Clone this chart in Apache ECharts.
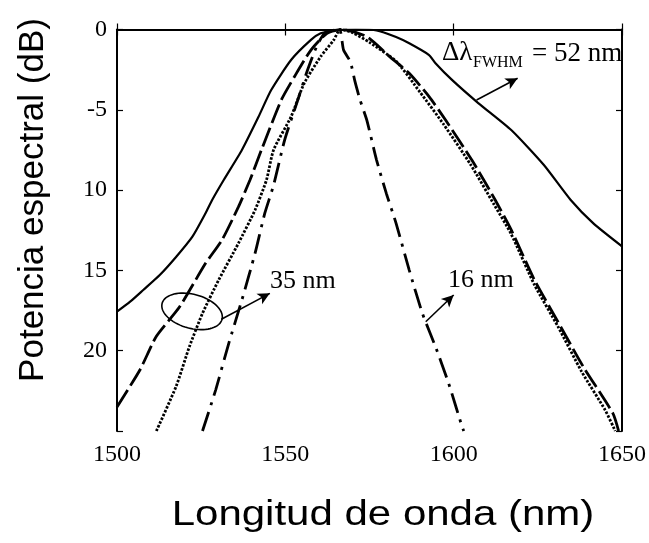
<!DOCTYPE html>
<html>
<head>
<meta charset="utf-8">
<script src="https://cdn.jsdelivr.net/npm/echarts@6/dist/echarts.min.js"></script>
<style>
  html, body { margin: 0; padding: 0; background: #fff; }
  #chart { width: 649px; height: 543px; }
</style>
</head>
<body>
<div id="chart"></div>
<script>
// Spectral power curves: [wavelength (nm), power (dB)]
var fwhm52 = [
  [1500, -17.57], [1503.9, -16.95], [1507.8, -16.22], [1512.7, -15.29], [1517.6, -14.15],
  [1522.4, -12.9], [1526.3, -11.44], [1528.3, -10.6], [1531.7, -9.37], [1537.1, -7.5],
  [1542, -5.45], [1545.8, -3.77], [1551.7, -1.9], [1557.6, -0.65],
  [1560.5, -0.24], [1565, -0.02], [1571, 0], [1577.1, -0.05], [1582.9, -0.47],
  [1586.8, -0.86], [1592.7, -1.59], [1594.6, -2.1], [1599.5, -3.14], [1607.3, -4.58],
  [1617.1, -6.26], [1626.8, -8.44], [1634.7, -10.6], [1641.5, -12.07], [1650, -13.5]
];
var fwhm35a = [
  [1500, -23.5], [1506.8, -21.2], [1511.7, -19.1], [1518.5, -17.3], [1526.3, -14.56],
  [1531.2, -13.1], [1536.1, -11.03], [1539.5, -9.37], [1542.9, -7.5], [1548.8, -4.39],
  [1552.7, -2.94], [1557.6, -1.28], [1562.4, -0.24], [1567, 0],
  [1574.2, -0.45], [1581, -1.69], [1586.8, -2.73], [1592.7, -4.18], [1597.6, -5.64],
  [1605.4, -8.13], [1612.3, -10.6], [1617.1, -12.48], [1624, -15.6], [1630.7, -18.1],
  [1638.5, -21], [1647.3, -23.9], [1649, -25]
];
var fwhm35b = [
  [1511.7, -25], [1517.6, -22.2], [1521.5, -19.75], [1525.4, -17.67], [1530.2, -15.6],
  [1536.1, -13.3], [1541, -11.24], [1544.4, -9.37], [1546.5, -7.5], [1551.7, -5.43],
  [1555.6, -3.35], [1560.5, -1.69], [1564.4, -0.65], [1566.3, 0], [1570, -0.2],
  [1575, -0.8], [1583, -2.0], [1590, -3.9], [1597, -5.9], [1605, -8.4],
  [1612, -10.9], [1617, -12.7], [1624, -15.9], [1631, -18.5], [1638, -21.3],
  [1645, -23.7], [1648, -25]
];
var fwhm16 = [
  [1525.4, -25], [1529.3, -22.45], [1533.2, -19.54], [1537.1, -16.84], [1541, -13.94],
  [1543.9, -11.44], [1546.5, -9.7], [1549.8, -6.88], [1553.7, -4.39], [1556.6, -2.52],
  [1559.5, -0.96], [1561.9, -0.2], [1566, 0], [1567.3, -1.28], [1569.3, -2.0],
  [1570.7, -3.25], [1572.2, -4.39], [1574.2, -5.64], [1577.1, -8.13], [1580, -10.2],
  [1582.9, -12.07], [1586.8, -14.98], [1590.7, -17.67], [1594.6, -19.75], [1598.5, -22.03],
  [1602.5, -24.73], [1603, -25]
];

// Axis tick labels
var xTicks = [1500, 1550, 1600, 1650];
var yTickLabels = { '0': '0', '-5': '-5', '-10': '10', '-15': '15', '-20': '20' };

// Annotation arrows (data coordinates: from -> to)
var arrows = [
  [[1606.8, -4.39], [1619.0, -3.04]],
  [[1531.0, -18.04], [1545.4, -16.43]],
  [[1591.7, -18.2], [1600.0, -16.53]]
];
var ellipseCenter = [1522.3, -17.55];

var serif = 'Liberation Serif, Times New Roman, serif';
var sans = 'Liberation Sans, Arial, sans-serif';

var chart = echarts.init(document.getElementById('chart'), null, { renderer: 'canvas' });

var boxAxis = {
  axisLine: { show: true, lineStyle: { color: '#000', width: 2 } },
  axisTick: { show: true, inside: true, length: 6, lineStyle: { color: '#000', width: 1.2 } },
  splitLine: { show: false }
};

function lineSeries(name, data, type, width) {
  return {
    name: name, type: 'line', data: data, smooth: 0.2, symbol: 'none',
    xAxisIndex: 0, yAxisIndex: 0, clip: true,
    lineStyle: { color: '#000', width: width, type: type, cap: 'butt' },
    z: 3
  };
}

var option = {
  animation: false,
  backgroundColor: '#fff',
  grid: { left: 117, right: 19, top: 29.5, bottom: 112, containLabel: false },
  xAxis: [
    Object.assign({
      type: 'value', min: 1500, max: 1650, interval: 50, position: 'bottom',
      axisLabel: {
        show: true, color: '#000', fontFamily: serif, fontSize: 24, margin: 12,
        formatter: function (v) { return xTicks.indexOf(v) >= 0 ? String(v) : ''; }
      }
    }, boxAxis),
    Object.assign({
      type: 'value', min: 1500, max: 1650, interval: 50, position: 'top',
      axisLabel: { show: false }
    }, boxAxis)
  ],
  yAxis: [
    Object.assign({
      type: 'value', min: -25, max: 0, interval: 5, position: 'left',
      axisLabel: {
        show: true, color: '#000', fontFamily: serif, fontSize: 24, margin: 10,
        formatter: function (v) { var k = String(v); return yTickLabels[k] !== undefined ? yTickLabels[k] : ''; }
      }
    }, boxAxis),
    Object.assign({
      type: 'value', min: -25, max: 0, interval: 5, position: 'right',
      axisLabel: { show: false }
    }, boxAxis)
  ],
  series: [
    lineSeries('52 nm', fwhm52, 'solid', 2.2),
    lineSeries('35 nm a', fwhm35a, [20, 5], 2.8),
    lineSeries('35 nm b', fwhm35b, [2.5, 1.6], 2.8),
    lineSeries('16 nm', fwhm16, [20, 7, 3, 7], 2.8),
    {
      type: 'line', data: [], symbol: 'none',
      markLine: {
        silent: true, symbol: ['none', 'arrow'], symbolSize: [9, 12],
        label: { show: false },
        lineStyle: { color: '#000', width: 1.6, type: 'solid' },
        data: arrows.map(function (a) { return [{ coord: a[0] }, { coord: a[1] }]; })
      }
    }
  ]
};
chart.setOption(option);

// Texts and the ellipse grouping the two 35 nm curves
function px(p) { return chart.convertToPixel({ xAxisIndex: 0, yAxisIndex: 0 }, p); }
var c = px(ellipseCenter);
var ell = [];
var rx = 31, ry = 17, rot = 15 * Math.PI / 180;
for (var i = 0; i <= 72; i++) {
  var t = i / 72 * Math.PI * 2;
  var ex = rx * Math.cos(t), ey = ry * Math.sin(t);
  ell.push([c[0] + ex * Math.cos(rot) - ey * Math.sin(rot), c[1] + ex * Math.sin(rot) + ey * Math.cos(rot)]);
}
var lblFont = { fontFamily: serif, fontSize: 26, fill: '#000' };
chart.setOption({
  graphic: [
    { type: 'polyline', shape: { points: ell }, style: { stroke: '#000', lineWidth: 1.6, fill: null }, z: 10 },
    { type: 'text', x: 442, y: 53, style: { text: 'Δλ', fontFamily: serif, fontSize: 27, fill: '#000', textVerticalAlign: 'middle' }, z: 10 },
    { type: 'text', x: 473, y: 63, style: { text: 'FWHM', fontFamily: serif, fontSize: 16, fill: '#000', textVerticalAlign: 'middle' }, z: 10 },
    { type: 'text', x: 532, y: 54, style: { text: '= 52 nm', fontFamily: serif, fontSize: 27, fill: '#000', textVerticalAlign: 'middle' }, z: 10 },
    { type: 'text', x: 270, y: 281, style: Object.assign({ text: '35 nm', textVerticalAlign: 'middle' }, lblFont), z: 10 },
    { type: 'text', x: 448, y: 280, style: Object.assign({ text: '16 nm', textVerticalAlign: 'middle' }, lblFont), z: 10 },
    { type: 'text', x: 383, y: 515, scaleX: 1.2, style: { text: 'Longitud de onda (nm)', fontFamily: sans, fontSize: 35, fill: '#000', textAlign: 'center', textVerticalAlign: 'middle' }, z: 10 },
    { type: 'text', x: 33, y: 200, rotation: Math.PI / 2, style: { text: 'Potencia espectral (dB)', fontFamily: sans, fontSize: 35, fill: '#000', textAlign: 'center', textVerticalAlign: 'middle' }, z: 10 }
  ]
});
</script>
</body>
</html>
